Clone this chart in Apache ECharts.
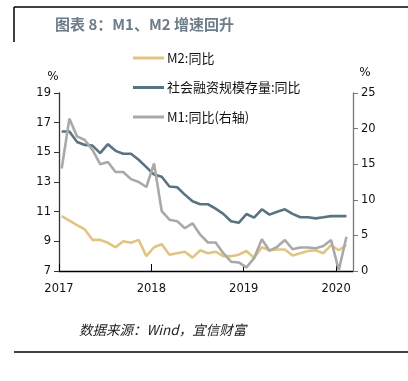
<!DOCTYPE html>
<html><head><meta charset="utf-8">
<script src="https://cdn.jsdelivr.net/npm/echarts@6/dist/echarts.min.js"></script>
<style>html,body{margin:0;padding:0;background:#fff}#c{width:408px;height:381px}</style>
</head><body><div id="c"></div>
<script>
// Months Jan 2017 .. Feb 2020
const months = ['2017-01','2017-02','2017-03','2017-04','2017-05','2017-06','2017-07','2017-08','2017-09','2017-10','2017-11','2017-12',
'2018-01','2018-02','2018-03','2018-04','2018-05','2018-06','2018-07','2018-08','2018-09','2018-10','2018-11','2018-12',
'2019-01','2019-02','2019-03','2019-04','2019-05','2019-06','2019-07','2019-08','2019-09','2019-10','2019-11','2019-12',
'2020-01','2020-02'];
const m2 = [10.7,10.4,10.1,9.8,9.1,9.1,8.9,8.6,9.0,8.9,9.1,8.0,
8.6,8.8,8.1,8.2,8.3,7.9,8.4,8.2,8.3,8.0,8.0,8.1,
8.35,7.9,8.6,8.4,8.45,8.45,8.05,8.2,8.35,8.4,8.2,8.75,
8.4,8.75];
const tsf = [16.4,16.4,15.7,15.5,15.45,14.95,15.55,15.1,14.9,14.9,14.5,14.0,
13.5,13.35,12.7,12.65,12.15,11.7,11.5,11.5,11.2,10.85,10.35,10.25,
10.84,10.6,11.16,10.8,11.0,11.16,10.85,10.62,10.62,10.55,10.62,10.7,
10.7,10.7];
const m1 = [14.4,21.4,18.9,18.4,17.0,15.0,15.3,13.9,13.9,12.9,12.5,11.8,
15.1,8.4,7.2,7.0,6.0,6.7,5.1,4.0,4.0,2.5,1.3,1.2,
0.5,1.8,4.45,2.85,3.4,4.35,3.05,3.3,3.3,3.2,3.5,4.35,
0.1,4.8];
const yearTicks = [2017, 2018, 2019, 2020];
const leftTicks = [7, 9, 11, 13, 15, 17, 19];
const rightTicks = [0, 5, 10, 15, 20, 25];
const seriesNames = ['M2:同比', '社会融资规模存量:同比', 'M1:同比(右轴)'];
const titleText = '图表 8：M1、M2 增速回升';
const sourceText = '数据来源：Wind，宜信财富';

// position of each monthly point inside its month
const OFF = 0.35;
const toPts = arr => arr.map((v, i) => [i + OFF, v]);
const tickPos = yearTicks.map(y => (y - 2017) * 12);

const chart = echarts.init(document.getElementById('c'), null, {renderer: 'canvas'});
const numFont = 'DejaVu Sans';
const cjk = '"Noto Sans CJK SC", "DejaVu Sans", sans-serif';
chart.setOption({
  animation: false,
  backgroundColor: '#fff',
  title: {
    text: titleText, left: 55, top: 17, padding: 0,
    textStyle: {fontSize: 15, fontWeight: 'bold', color: '#6c7c88', fontFamily: cjk}
  },
  legend: {
    orient: 'vertical', left: 133, top: 51, padding: 0,
    itemWidth: 31, itemHeight: 3, itemGap: 15.5, icon: 'rect',
    textStyle: {fontSize: 13, color: '#111', fontFamily: cjk, lineHeight: 14, padding: [0,0,0,-2]},
    data: seriesNames
  },
  grid: {left: 59, right: 55, top: 93, bottom: 110, containLabel: false},
  xAxis: {
    type: 'value', min: 0, max: 38.2,
    axisLine: {show: true, lineStyle: {color: '#000', width: 1.3}},
    axisTick: {show: true, inside: true, length: 7, lineStyle: {color: '#000'}, customValues: tickPos},
    axisLabel: {customValues: tickPos, formatter: v => String(2017 + Math.round(v / 12)),
      fontSize: 11.5, color: '#111', fontFamily: numFont, margin: 12},
    splitLine: {show: false}
  },
  yAxis: [{
    type: 'value', min: 7, max: 19, interval: 2, name: '%', nameLocation: 'end', nameGap: 10,
    nameTextStyle: {fontSize: 12, color: '#111', fontFamily: numFont, padding: [0, 12, 0, 0]},
    axisLine: {show: true, lineStyle: {color: '#333', width: 1.3}},
    axisTick: {show: true, inside: false, length: 5, lineStyle: {color: '#333'}},
    axisLabel: {fontSize: 11.5, color: '#111', fontFamily: numFont, margin: 8},
    splitLine: {show: false}
  }, {
    type: 'value', min: 0, max: 25, interval: 5, name: '%', nameLocation: 'end', nameGap: 14,
    nameTextStyle: {fontSize: 12, color: '#111', fontFamily: numFont, padding: [0, 0, 0, 24]},
    axisLine: {show: true, lineStyle: {color: '#777', width: 1.3}},
    axisTick: {show: true, inside: false, length: 5, lineStyle: {color: '#777'}},
    axisLabel: {fontSize: 11.5, color: '#111', fontFamily: numFont, margin: 8},
    splitLine: {show: false}
  }],
  series: [
    {name: seriesNames[0], type: 'line', yAxisIndex: 0, data: toPts(m2), showSymbol: false,
     lineStyle: {color: '#e2c482', width: 2.6}, itemStyle: {color: '#e2c482'}},
    {name: seriesNames[1], type: 'line', yAxisIndex: 0, data: toPts(tsf), showSymbol: false,
     lineStyle: {color: '#587381', width: 2.6}, itemStyle: {color: '#587381'}},
    {name: seriesNames[2], type: 'line', yAxisIndex: 1, data: toPts(m1), showSymbol: false,
     lineStyle: {color: '#a9a9a9', width: 2.6}, itemStyle: {color: '#a9a9a9'}}
  ],
  graphic: [
    {type: 'line', shape: {x1: 14, y1: 7, x2: 408, y2: 7}, style: {stroke: '#000', lineWidth: 1.5}},
    {type: 'line', shape: {x1: 14, y1: 7, x2: 14, y2: 42}, style: {stroke: '#000', lineWidth: 1.5}},
    {type: 'line', shape: {x1: 14, y1: 352, x2: 408, y2: 352}, style: {stroke: '#000', lineWidth: 1.5}},
    {type: 'text', left: 79, top: 323, style: {text: sourceText, fill: '#222', font: 'italic 13.5px "Noto Sans CJK SC", sans-serif'}}
  ]
});
</script></body></html>
